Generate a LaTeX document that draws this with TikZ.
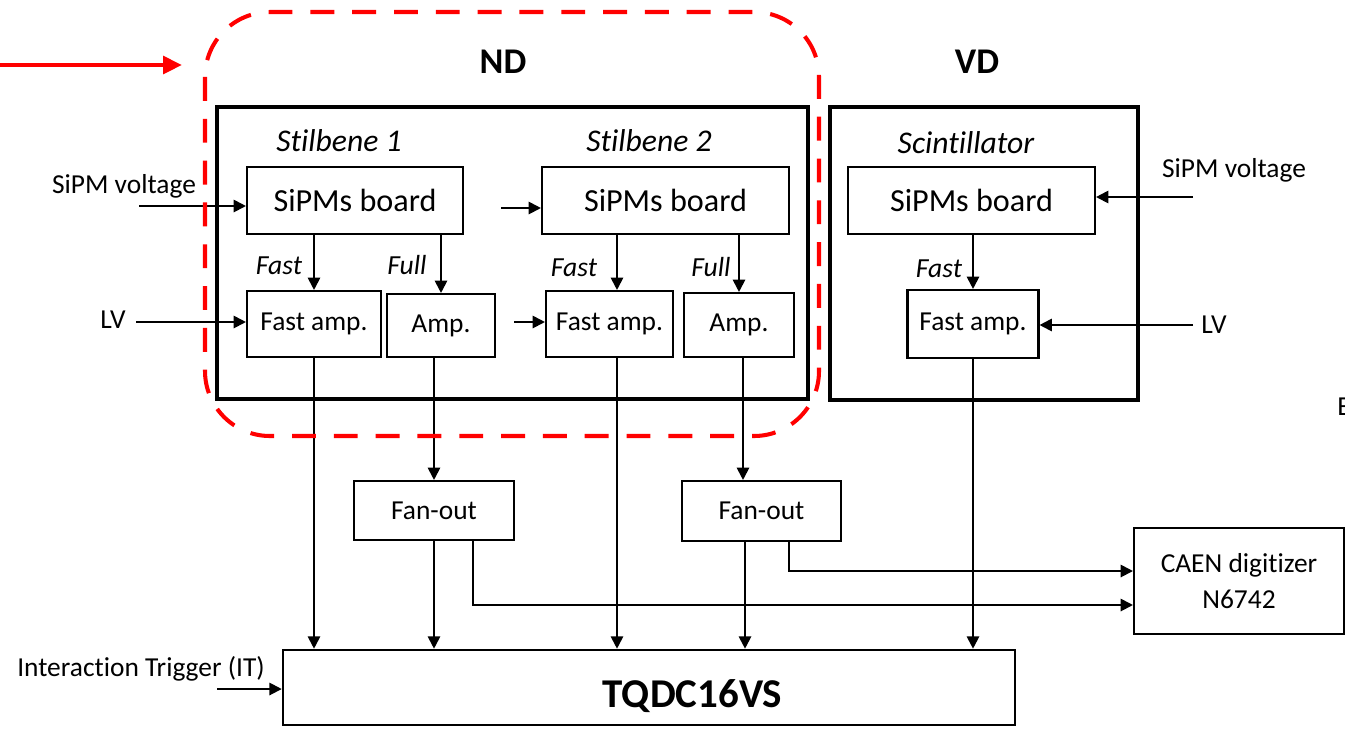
\documentclass[tikz,border=0pt]{standalone}
\usepackage{fontspec}
\setmainfont{Carlito}[Ligatures=NoCommon]
\definecolor{mRed}{HTML}{FF0000}
\usetikzlibrary{arrows.meta}

\begin{document}
\begin{tikzpicture}[x=0.02cm, y=-0.02cm,
  blk/.style={draw, line width=1.2pt, inner sep=0pt, font=\fontsize{15.6}{18}\selectfont},
  board/.style={blk, minimum width=#1, minimum height=1.34cm, font=\fontsize{18.3}{21}\selectfont},
  frm/.style={draw, line width=1.8pt, inner sep=0pt},
  hdr/.style={font=\fontsize{20.6}{24}\selectfont\bfseries},
  det/.style={font=\fontsize{18}{21}\selectfont\itshape},
  sigtag/.style={font=\fontsize{15.7}{18}\selectfont\itshape},
  note/.style={font=\fontsize{15.6}{18}\selectfont, inner sep=0pt},
  sig/.style={-{Triangle[length=7pt,width=7pt]}, line width=1.1pt},
  reddash/.style={mRed, line width=2.3pt, dash pattern=on 13.6pt off 10.2pt, rounded corners=1.3cm}]
  \useasboundingbox (0,0) rectangle (1345,728);
  \clip (0,0) rectangle (1345,728);
  % detector frames
  \node[frm, minimum width=11.82cm, minimum height=5.84cm] (nd) at (512.5,253) {};
  \node[frm, minimum width=6.16cm, minimum height=5.86cm] (vd) at (984,253.5) {};
  \node[hdr] (ndname) at (503,62) {ND};
  \node[hdr] (vdname) at (977,62) {VD};
  \node[det] (s1) at (339,141) {Stilbene 1};
  \node[det] (s2) at (649,141) {Stilbene 2};
  \node[det] (sc) at (966,143) {Scintillator};
  % boards and amplifiers
  \node[board=4.32cm] (b1) at (355,200.5) {SiPMs board};
  \node[board=4.94cm] (b2) at (665.5,200.5) {SiPMs board};
  \node[board=4.94cm] (b3) at (971.5,200.5) {SiPMs board};
  \node[blk, minimum width=2.68cm, minimum height=1.32cm] (fa1) at (314,324) {Fast amp.};
  \node[blk, minimum width=2.16cm, minimum height=1.26cm] (a1) at (441,325.5) {Amp.};
  \node[blk, minimum width=2.54cm, minimum height=1.32cm] (fa2) at (609.5,324) {Fast amp.};
  \node[blk, minimum width=2.2cm, minimum height=1.28cm] (a2) at (739,325) {Amp.};
  \node[blk, minimum width=2.62cm, minimum height=1.36cm] (fa3) at (973,324) {Fast amp.};
  % readout
  \node[blk, minimum width=3.2cm, minimum height=1.18cm] (fo1) at (434,510.5) {Fan-out};
  \node[blk, minimum width=3.18cm, minimum height=1.2cm] (fo2) at (761.5,511) {Fan-out};
  \node[blk, minimum width=4.2cm, minimum height=2.12cm, align=center,
        font=\fontsize{15.6}{20.4}\selectfont] (caen) at (1239,581) {CAEN digitizer\\N6742};
  \node[blk, line width=1.5pt, minimum width=14.64cm, minimum height=1.5cm] (tq) at (649,687.5) {};
  \node[font=\fontsize{23.3}{27}\selectfont\bfseries] (tqname) at (692.5,696) {TQDC16VS};
  % inputs
  \node[note] (hvl) at (124,186) {SiPM voltage};
  \node[note] (hvr) at (1234,170) {SiPM voltage};
  \node[note] (lvl) at (113,320) {LV};
  \node[note] (lvr) at (1214,324.5) {LV};
  \node[note] (itl) at (141,669) {Interaction Trigger (IT)};
  \node[note, anchor=west] (cut) at (1337,406.5) {E};
  \coordinate (hvlin) at (139,206);
  \coordinate (hvrin) at (1193,197);
  \coordinate (lvlin) at (136,322);
  \coordinate (lvrin) at (1193,325);
  \coordinate (b12) at (501,208);
  \coordinate (fa12) at (514,322);
  \coordinate (itin) at (217,689);
  \coordinate (redA) at (0,65);
  \coordinate (redB) at (182,65);
  \draw[sig] (hvlin) -- (hvlin -| b1.west);
  \draw[sig] (b12) -- (b12 -| b2.west);
  \draw[sig] (hvrin) -- (hvrin -| b3.east);
  \draw[sig] (lvlin) -- (lvlin -| fa1.west);
  \draw[sig] (fa12) -- (fa12 -| fa2.west);
  \draw[sig] (lvrin) -- (lvrin -| fa3.east);
  \draw[sig] (itin) -- (itin -| tq.west);
  % fast / full outputs
  \draw[sig] (b1.south -| fa1.north) -- (fa1.north);
  \draw[sig] (b1.south -| a1.north) -- (a1.north);
  \draw[sig] ([xshift=0.15cm]b2.south -| fa2.north) -- ([xshift=0.15cm]fa2.north);
  \draw[sig] (b2.south -| a2.north) -- (a2.north);
  \draw[sig] (b3.south -| fa3.north) -- (fa3.north);
  \node[sigtag] (t1) at (279,266) {Fast};
  \node[sigtag] (t2) at (407,265) {Full};
  \node[sigtag] (t3) at (574,268) {Fast};
  \node[sigtag] (t4) at (711,267) {Full};
  \node[sigtag] (t5) at (939,269) {Fast};
  % to the digitizers
  \draw[sig] (fa1.south) -- (fa1.south |- tq.north);
  \draw[sig] (a1.south -| fo1.north) -- (fo1.north);
  \draw[sig] (fo1.south) -- (fo1.south |- tq.north);
  \draw[sig] ([xshift=0.15cm]fa2.south) -- ([xshift=0.15cm]fa2.south |- tq.north);
  \draw[sig] ([xshift=0.08cm]a2.south) -- ([xshift=0.08cm]a2.south |- fo2.north);
  \draw[sig] ([xshift=-0.33cm]fo2.south) -- ([xshift=-0.33cm]fo2.south |- tq.north);
  \draw[sig] (fa3.south) -- (fa3.south |- tq.north);
  \draw[sig] ([xshift=0.78cm]fo1.south) |- ([yshift=-0.48cm]caen.west);
  \draw[sig] ([xshift=0.55cm]fo2.south) |- ([yshift=0.2cm]caen.west);
  % ND highlight
  \draw[reddash] (205,12) rectangle (819,436);
  \draw[mRed, line width=2.3pt, -{Triangle[length=10.8pt,width=10pt]}] (redA) -- (redB);
\end{tikzpicture}
\end{document}
